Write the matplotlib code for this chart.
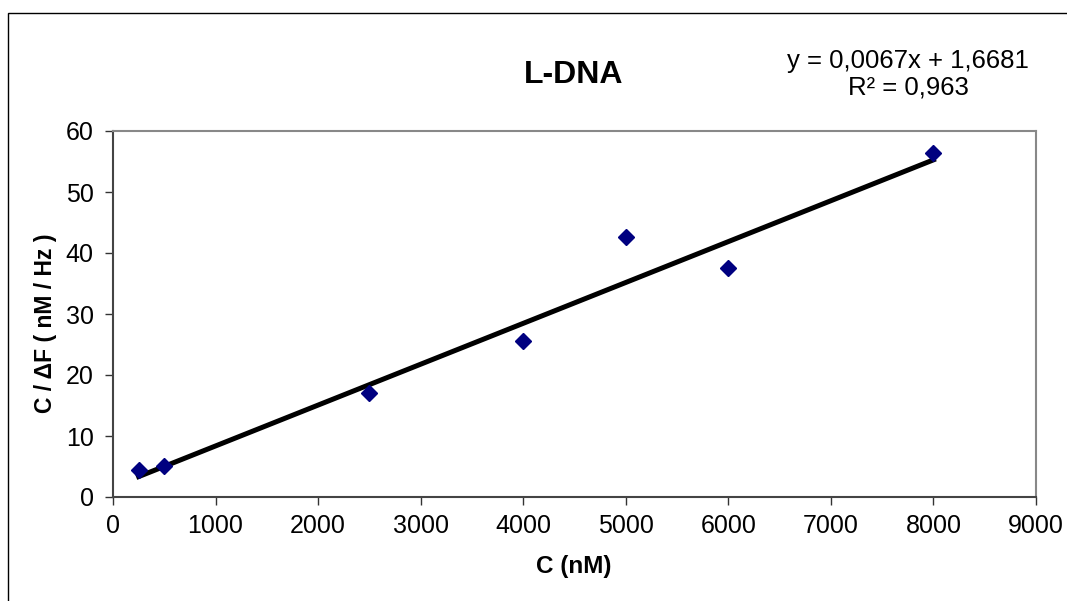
import numpy as np
import matplotlib.pyplot as plt
from matplotlib.patches import Rectangle

plt.rcParams['font.family'] = ['Liberation Sans', 'DejaVu Sans']

conc = [250, 500, 2500, 4000, 5000, 6000, 8000]
ratio = [4.4, 5.1, 17.1, 25.6, 42.6, 37.5, 56.4]
slope = 0.0067
intercept = 1.6681
r2 = "0,963"

fig = plt.figure(figsize=(10.67, 6.01), dpi=100)
# outer chart border (only left/top visible)
fig.patches.append(Rectangle((8/1067, -0.1), 1.2, 1 - 13/601 + 0.1,
                             transform=fig.transFigure, fill=False,
                             edgecolor='black', linewidth=1))

ax = fig.add_axes([113/1067, 1 - 497/601, 923/1067, 366/601])

xfit = np.array([min(conc), max(conc)])
ax.plot(xfit, slope*xfit + intercept, color='black', linewidth=3.6, zorder=2)
ax.plot(conc, ratio, linestyle='none', marker='D', markersize=8.5,
        color='#000080', zorder=3)

ax.set_xlim(0, 9000)
ax.set_ylim(0, 60)
ax.set_xticks(range(0, 9001, 1000))
ax.set_yticks(range(0, 61, 10))
ax.tick_params(direction='out', length=6, width=1, colors='#333333',
               labelcolor='black', labelsize=18)
ax.tick_params(axis='x', pad=6)
ax.tick_params(axis='y', pad=8)
for s in ['top', 'right']:
    ax.spines[s].set_color('#888888')
    ax.spines[s].set_linewidth(1.5)
for s in ['left', 'bottom']:
    ax.spines[s].set_color('#444444')
    ax.spines[s].set_linewidth(1.5)

fig.text(574/1067, 1 - 566/601, 'C (nM)', fontsize=17.5, fontweight='bold',
         ha='center', va='center')
fig.text(46/1067, 1 - 323/601, 'C / ΔF ( nM / Hz )', fontsize=16.5,
         fontweight='bold', ha='center', va='center', rotation=90)

fig.text(574/1067, 1 - 75/601, 'L-DNA', fontsize=23, fontweight='bold',
         ha='center', va='center')
fig.text(908/1067, 1 - 74/601,
         'y = {:.4f}x + {:.4f}'.format(slope, intercept).replace('.', ',') + '\nR² = ' + r2,
         fontsize=18.5, ha='center', va='center', linespacing=1.15)

fig.savefig('out.png', dpi=100)
